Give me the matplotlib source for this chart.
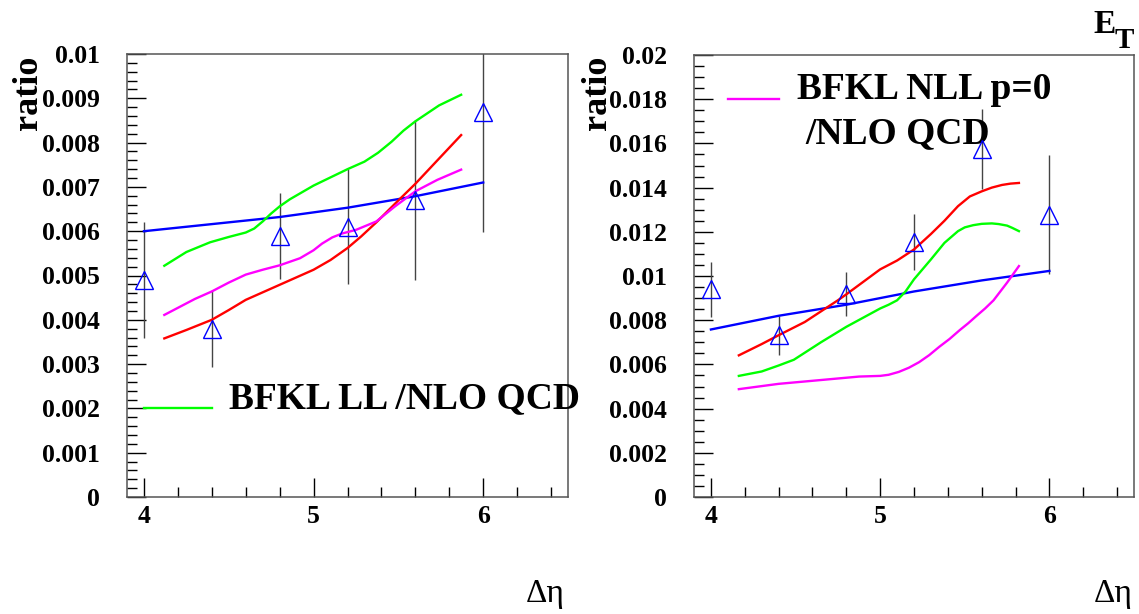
import matplotlib
matplotlib.use("Agg")
import matplotlib.pyplot as plt
from matplotlib.ticker import MultipleLocator, FormatStrFormatter

plt.rcParams['font.family'] = ['Liberation Serif', 'DejaVu Serif']

# measured points (triangles) shared x positions
pts_x = [4.0, 4.4, 4.8, 5.2, 5.6, 6.0]

# ---- left panel: BFKL LL / NLO QCD
left_pts_y = [0.0049, 0.0038, 0.00589, 0.0061, 0.0067, 0.00868]
left_pts_err = [0.0013, 0.00087, 0.00098, 0.0013, 0.0018, 0.0027]

left_blue_x = [4.0, 4.4, 4.8, 5.2, 5.6, 6.0]
left_blue_y = [0.00600, 0.00616, 0.00632, 0.00653, 0.00679, 0.00710]

left_green_x = [4.12, 4.25, 4.39, 4.5, 4.6, 4.65, 4.7, 4.75, 4.8, 4.86, 5.0, 5.2, 5.3, 5.38,
                5.46, 5.53, 5.6, 5.74, 5.87]
left_green_y = [0.00522, 0.00553, 0.00575, 0.00587, 0.00597, 0.00606, 0.00622, 0.00640, 0.00656,
                0.00672, 0.00703, 0.00740, 0.00757, 0.00777, 0.00802, 0.00827, 0.00848, 0.00884, 0.00908]

left_red_x = [4.12, 4.25, 4.4, 4.5, 4.6, 4.8, 5.0, 5.1, 5.2, 5.28, 5.37, 5.48, 5.6, 5.73, 5.87]
left_red_y = [0.00358, 0.00377, 0.00400, 0.00422, 0.00445, 0.00479, 0.00513, 0.00535, 0.00562,
              0.00588, 0.00620, 0.00662, 0.00707, 0.00760, 0.00817]

left_mag_x = [4.12, 4.3, 4.4, 4.5, 4.6, 4.7, 4.8, 4.92, 5.0, 5.05, 5.11, 5.17, 5.25, 5.37,
              5.48, 5.6, 5.73, 5.87]
left_mag_y = [0.00411, 0.00447, 0.00464, 0.00484, 0.00502, 0.00513, 0.00523, 0.00539, 0.00557,
              0.00572, 0.00586, 0.00595, 0.00603, 0.00622, 0.00656, 0.00690, 0.00716, 0.00739]

# ---- right panel: BFKL NLL p=0 / NLO QCD
right_pts_y = [0.0094, 0.00732, 0.0092, 0.01153, 0.01574, 0.01278]
right_pts_err = [0.00125, 0.00088, 0.0010, 0.00127, 0.0018, 0.0027]

right_blue_x = [4.0, 4.4, 4.8, 5.2, 5.6, 6.0]
right_blue_y = [0.00758, 0.0082, 0.0087, 0.0093, 0.0098, 0.01023]

right_red_x = [4.165, 4.3, 4.4, 4.555, 4.75, 4.8, 5.0, 5.1, 5.2, 5.3, 5.38, 5.46, 5.53, 5.6,
               5.66, 5.72, 5.77, 5.82]
right_red_y = [0.00641, 0.00692, 0.00732, 0.00792, 0.0089, 0.00917, 0.0103, 0.0107, 0.0112, 0.0119,
               0.0125, 0.01316, 0.0136, 0.01383, 0.01400, 0.01412, 0.01418, 0.01421]

right_green_x = [4.165, 4.3, 4.4, 4.49, 4.65, 4.8, 5.0, 5.05, 5.1, 5.15, 5.2, 5.3, 5.38, 5.46,
                 5.5, 5.55, 5.6, 5.66, 5.7, 5.75, 5.78, 5.82]
right_green_y = [0.00548, 0.00568, 0.00595, 0.00621, 0.00700, 0.0077, 0.00853, 0.0087, 0.0089,
                 0.0093, 0.00985, 0.01075, 0.0115, 0.01203, 0.0122, 0.0123, 0.01236, 0.01238,
                 0.01235, 0.01228, 0.01218, 0.01203]

right_mag_x = [4.165, 4.4, 4.66, 4.876, 5.0, 5.05, 5.11, 5.17, 5.23, 5.29, 5.35, 5.41, 5.47,
               5.52, 5.57, 5.62, 5.67, 5.75, 5.82]
right_mag_y = [0.00488, 0.00512, 0.0053, 0.00545, 0.00548, 0.00553, 0.00566, 0.00585, 0.0061,
               0.00642, 0.0068, 0.00715, 0.00755, 0.00786, 0.0082, 0.00853, 0.0089, 0.0097, 0.01045]

fig = plt.figure(figsize=(11.39, 6.14), dpi=100)
W, H = 1139.0, 614.0
ax1 = fig.add_axes([127 / W, 1 - 497 / H, 441 / W, 443 / H])
ax2 = fig.add_axes([694 / W, 1 - 497 / H, 440 / W, 442 / H])


def style(ax, ymax, ymaj, ymin):
    ax.set_xlim(3.9, 6.5)
    ax.set_ylim(0, ymax)
    ax.xaxis.set_major_locator(MultipleLocator(1))
    ax.xaxis.set_minor_locator(MultipleLocator(0.2))
    ax.yaxis.set_major_locator(MultipleLocator(ymaj))
    ax.yaxis.set_minor_locator(MultipleLocator(ymin))
    ax.yaxis.set_major_formatter(FormatStrFormatter('%g'))
    ax.tick_params(which='both', direction='in', top=False, right=False, color='black', width=1.0)
    ax.tick_params(which='major', length=14)
    ax.tick_params(which='minor', length=7)
    ax.tick_params(axis='y', which='major', pad=19.5)
    ax.tick_params(axis='x', which='major', pad=6)
    for lab in ax.get_xticklabels() + ax.get_yticklabels():
        lab.set_fontsize(18.5)
        lab.set_fontweight('bold')
    for sp in ax.spines.values():
        sp.set_color('#555555')
        sp.set_linewidth(1.1)


def draw(ax, bx, by, gx, gy, rx, ry, mx, my, py, perr):
    ax.errorbar(pts_x, py, yerr=perr, fmt='none', ecolor='#444444', elinewidth=1.0, capsize=0, zorder=2)
    for xs, ys, c in ((bx, by, '#0000ff'), (gx, gy, '#00ff00'), (rx, ry, '#ff0000'), (mx, my, '#ff00ff')):
        ax.plot(xs, ys, color=c, lw=1.7, zorder=3, solid_joinstyle='round')
    ax.plot(pts_x, py, linestyle='none', marker='^', markersize=13.5, markerfacecolor='none',
            markeredgecolor='#0000ff', markeredgewidth=1.0, zorder=4)


style(ax1, 0.01, 0.001, 0.0002)
style(ax2, 0.02, 0.002, 0.0005)

draw(ax1, left_blue_x, left_blue_y, left_green_x, left_green_y, left_red_x, left_red_y,
     left_mag_x, left_mag_y, left_pts_y, left_pts_err)
draw(ax2, right_blue_x, right_blue_y, right_green_x, right_green_y, right_red_x, right_red_y,
     right_mag_x, right_mag_y, right_pts_y, right_pts_err)

# legends
ax1.plot([4.0, 4.4], [0.002, 0.002], color='#00ff00', lw=1.7)
ax1.text(4.5, 0.002, 'BFKL LL /NLO QCD', fontsize=27, fontweight='bold',
         ha='left', va='baseline', clip_on=False)
ax2.plot([4.1, 4.4], [0.018, 0.018], color='#ff00ff', lw=1.7)
ax2.text(4.506, 0.018, 'BFKL NLL p=0', fontsize=27, fontweight='bold',
         ha='left', va='baseline', clip_on=False)
ax2.text(4.56, 0.016, '/NLO QCD', fontsize=27, fontweight='bold',
         ha='left', va='baseline', clip_on=False)

# axis titles
fig.text(28 / W, 1 - 93 / H, 'ratio', rotation=90, fontsize=26, fontweight='bold', ha='center', va='center')
fig.text(597 / W, 1 - 93 / H, 'ratio', rotation=90, fontsize=26, fontweight='bold', ha='center', va='center')
fig.text(565 / W, 1 - 602 / H, 'Δη', fontsize=24, ha='right', va='baseline')
fig.text(1133 / W, 1 - 602 / H, 'Δη', fontsize=24, ha='right', va='baseline')
fig.text(1093 / W, 1 - 33 / H, 'E', fontsize=24, fontweight='bold', ha='left', va='baseline')
fig.text(1115 / W, 1 - 48 / H, 'T', fontsize=21, fontweight='bold', ha='left', va='baseline')

fig.savefig('out.png', dpi=100)
